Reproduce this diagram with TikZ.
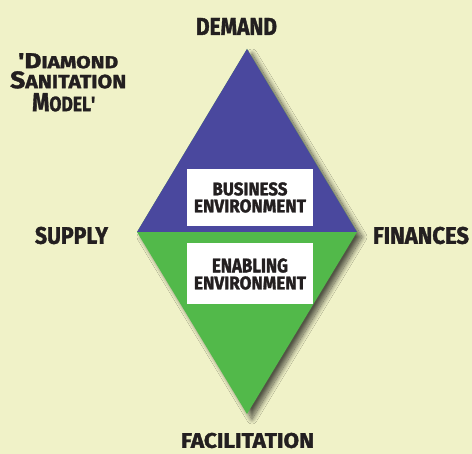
\documentclass[tikz,border=0pt]{standalone}
\usepackage{fontspec}
\setmainfont{Fira Sans}[BoldFeatures={FakeBold=1.6}]
\usetikzlibrary{shadows.blur}
\definecolor{bg}{HTML}{F0F2C8}
\definecolor{topblue}{HTML}{4A489E}
\definecolor{botgreen}{HTML}{52B94A}
\definecolor{ink}{HTML}{231F20}
\newcommand\fitlbl[3]{\resizebox{#1pt}{#2pt}{\bfseries #3}}
\tikzset{
  lbl/.style={inner sep=0pt, text=ink},
  wbox/.style={fill=white, draw=none, inner sep=0pt, align=center, text=ink,
    font=\fontsize{10}{17}\selectfont},
}
\begin{document}
\begin{tikzpicture}[x=1pt,y=-1pt]
\fill[bg] (0,0) rectangle (472,454);
\useasboundingbox (0,0) rectangle (472,454);
% diamond
\coordinate (T) at (247,49);
\coordinate (R) at (357,232);
\coordinate (B) at (247,414);
\coordinate (L) at (137,232);
\path[fill=botgreen, blur shadow={shadow xshift=5pt, shadow yshift=-5pt, shadow blur radius=5pt, shadow blur steps=12, shadow opacity=65}]
  (T) -- (R) -- (B) -- (L) -- cycle;
\fill[topblue] (T) -- (R) -- (L) -- cycle;
% boxes
\node[wbox, minimum width=126pt, minimum height=57pt] (business) at (250,197.5)
  {\fitlbl{75}{13}{BUSINESS}\\\fitlbl{112}{13}{ENVIRONMENT}};
\node[wbox, minimum width=126pt, minimum height=61pt] (enabling) at (250,274)
  {\fitlbl{76}{14}{ENABLING}\\\fitlbl{112}{13}{ENVIRONMENT}};
% labels
\node[lbl] (demand) at (236.5,26.5) {\fitlbl{81}{17}{DEMAND}};
\node[lbl] (supply) at (71.5,235.5) {\fitlbl{73}{17}{SUPPLY}};
\node[lbl] (finances) at (421,235.5) {\fitlbl{96}{17}{FINANCES}};
\node[lbl] (facilitation) at (247.5,440.5) {\fitlbl{133}{15}{FACILITATION}};
% title
\node[lbl, anchor=north west] (title1) at (18,53)
  {\fitlbl{100}{15}{{\fontsize{20}{20}\selectfont \textquotesingle D}{\fontsize{16}{16}\selectfont IAMOND}}};
\node[lbl, anchor=north west] (title2) at (10,71)
  {\fitlbl{116}{17}{{\fontsize{20}{20}\selectfont S}{\fontsize{16}{16}\selectfont ANITATION}}};
\node[lbl, anchor=north west] (title3) at (32,93)
  {\fitlbl{63}{18}{{\fontsize{20}{20}\selectfont M}{\fontsize{16}{16}\selectfont ODEL\textquotesingle}}};
\end{tikzpicture}
\end{document}
